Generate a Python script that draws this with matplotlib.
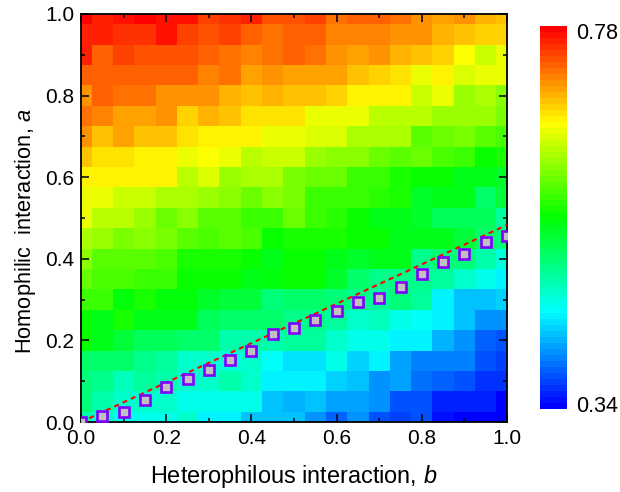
import matplotlib
matplotlib.use("Agg")
import matplotlib.pyplot as plt
import numpy as np
from matplotlib.colors import LinearSegmentedColormap
from matplotlib.ticker import MultipleLocator

plt.rcParams['font.family'] = ['Liberation Sans', 'DejaVu Sans']
plt.rcParams['mathtext.fontset'] = 'custom'
plt.rcParams['mathtext.rm'] = 'Liberation Sans'
plt.rcParams['mathtext.it'] = 'Liberation Sans:italic'

b_grid = [i / 20 for i in range(21)]
a_grid = [i / 20 for i in range(21)]

# rows from a=1.0 down to a=0.0
z_rows = [
    [.780,.762,.773,.776,.771,.767,.749,.754,.760,.745,.745,.747,.727,.738,.736,.729,.714,.710,.714,.703,.692],
    [.762,.762,.758,.758,.767,.749,.740,.749,.736,.727,.736,.732,.723,.723,.723,.714,.714,.701,.692,.688,.688],
    [.762,.736,.749,.745,.740,.740,.734,.729,.723,.727,.736,.729,.714,.710,.718,.701,.692,.685,.666,.648,.661],
    [.736,.736,.736,.738,.734,.732,.723,.727,.705,.714,.710,.710,.710,.696,.688,.683,.661,.670,.652,.657,.661],
    [.718,.732,.727,.729,.714,.718,.718,.701,.692,.701,.694,.692,.685,.670,.674,.670,.644,.657,.626,.635,.617],
    [.727,.721,.710,.707,.716,.688,.701,.696,.683,.683,.677,.661,.661,.661,.639,.639,.639,.626,.626,.628,.613],
    [.714,.696,.710,.692,.692,.683,.674,.674,.672,.657,.657,.652,.652,.635,.635,.633,.595,.604,.613,.595,.591],
    [.696,.683,.683,.674,.670,.661,.666,.657,.639,.644,.644,.622,.617,.617,.608,.600,.604,.591,.582,.560,.573],
    [.674,.670,.670,.674,.670,.639,.652,.626,.633,.633,.613,.608,.604,.582,.582,.573,.560,.560,.547,.547,.542],
    [.657,.657,.648,.644,.630,.633,.622,.617,.608,.617,.613,.586,.582,.586,.578,.569,.542,.547,.547,.516,.534],
    [.661,.639,.639,.622,.604,.617,.595,.600,.586,.582,.604,.586,.578,.560,.547,.547,.542,.520,.525,.520,.494],
    [.630,.622,.613,.619,.615,.600,.591,.595,.591,.560,.573,.569,.569,.560,.560,.551,.551,.547,.534,.516,.507],
    [.617,.595,.595,.595,.591,.573,.573,.573,.560,.551,.560,.560,.547,.542,.547,.551,.503,.507,.507,.485,.468],
    [.604,.591,.591,.586,.582,.560,.560,.560,.551,.556,.560,.560,.542,.516,.503,.503,.503,.498,.472,.463,.450],
    [.586,.582,.556,.569,.556,.556,.542,.538,.538,.507,.516,.516,.507,.503,.498,.507,.494,.450,.428,.428,.432],
    [.560,.551,.573,.551,.551,.551,.525,.516,.516,.516,.503,.503,.494,.472,.481,.463,.454,.446,.428,.406,.406],
    [.560,.547,.538,.525,.525,.516,.512,.490,.485,.485,.498,.498,.476,.463,.463,.450,.450,.419,.406,.384,.375],
    [.512,.512,.516,.503,.498,.476,.476,.468,.476,.454,.441,.441,.463,.432,.450,.415,.397,.397,.397,.380,.371],
    [.507,.503,.481,.494,.490,.472,.472,.490,.472,.450,.446,.450,.432,.428,.406,.415,.393,.384,.380,.362,.362],
    [.507,.485,.472,.472,.472,.463,.459,.459,.459,.424,.419,.428,.415,.410,.406,.380,.375,.358,.358,.358,.340],
    [.490,.472,.463,.459,.463,.472,.450,.450,.424,.428,.424,.402,.388,.402,.375,.371,.375,.353,.344,.340,.340],
]

marker_b = [0.0, .05, .10, .15, .20, .25, .30, .35, .40, .45, .50, .55, .60, .65, .70, .75, .80, .85, .90, .95, 1.0]
marker_a = [0.0, .015, .025, .053, .085, .105, .127, .152, .175, .215, .23, .25, .272, .295, .305, .33, .362, .392, .412, .44, .457]

line_b = [0.0, 1.0]
line_a = [0.0, 0.483]

z_min = 0.34
z_max = 0.78

W, H = 620, 492
cmap = LinearSegmentedColormap.from_list("bcgyr", ["#0000ff", "#00ffff", "#00ff00", "#ffff00", "#ff0000"], N=64)

fig = plt.figure(figsize=(W / 100, H / 100), dpi=100)
ax = fig.add_axes([81 / W, 1 - 422 / H, 426 / W, 408 / H])

z = np.array(z_rows)[::-1]
mesh = ax.pcolormesh(b_grid, a_grid, z, cmap=cmap, vmin=z_min, vmax=z_max, shading='nearest')

ax.plot(line_b, line_a, color="#ff0000", lw=1.5, dashes=(2.4, 2), zorder=3)
ax.plot(marker_b, marker_a, ls="none", marker="s", ms=6.8, mfc="#c0c0c0", mec="#8000ff", mew=1.9, zorder=4)

ax.set_xlim(0, 1)
ax.set_ylim(0, 1)
ax.xaxis.set_major_locator(MultipleLocator(0.2))
ax.xaxis.set_minor_locator(MultipleLocator(0.1))
ax.yaxis.set_major_locator(MultipleLocator(0.2))
ax.yaxis.set_minor_locator(MultipleLocator(0.1))
ax.tick_params(which='major', direction='in', length=6, width=1.1, top=True, right=True, labelsize=15, pad=5)
ax.tick_params(which='minor', direction='in', length=3.2, width=1.1, top=True, right=True)
for s in ax.spines.values():
    s.set_linewidth(1.3)

ax.set_xlabel(r"Heterophilous interaction, $\mathit{b}$", fontsize=16.9, labelpad=11)
ax.set_ylabel(r"Homophilic  interaction, $\mathit{a}$", fontsize=15.7, labelpad=5, y=0.468)

cax = fig.add_axes([540 / W, 1 - 409 / H, 27 / W, 383 / H])
cbar = fig.colorbar(mesh, cax=cax)
cbar.outline.set_visible(False)
cbar.set_ticks([])
fig.text(576 / W, 1 - 33 / H, "0.78", fontsize=15.5, va='center', ha='left')
fig.text(576 / W, 1 - 407 / H, "0.34", fontsize=15.5, va='center', ha='left')

fig.savefig("out.png", dpi=100)
